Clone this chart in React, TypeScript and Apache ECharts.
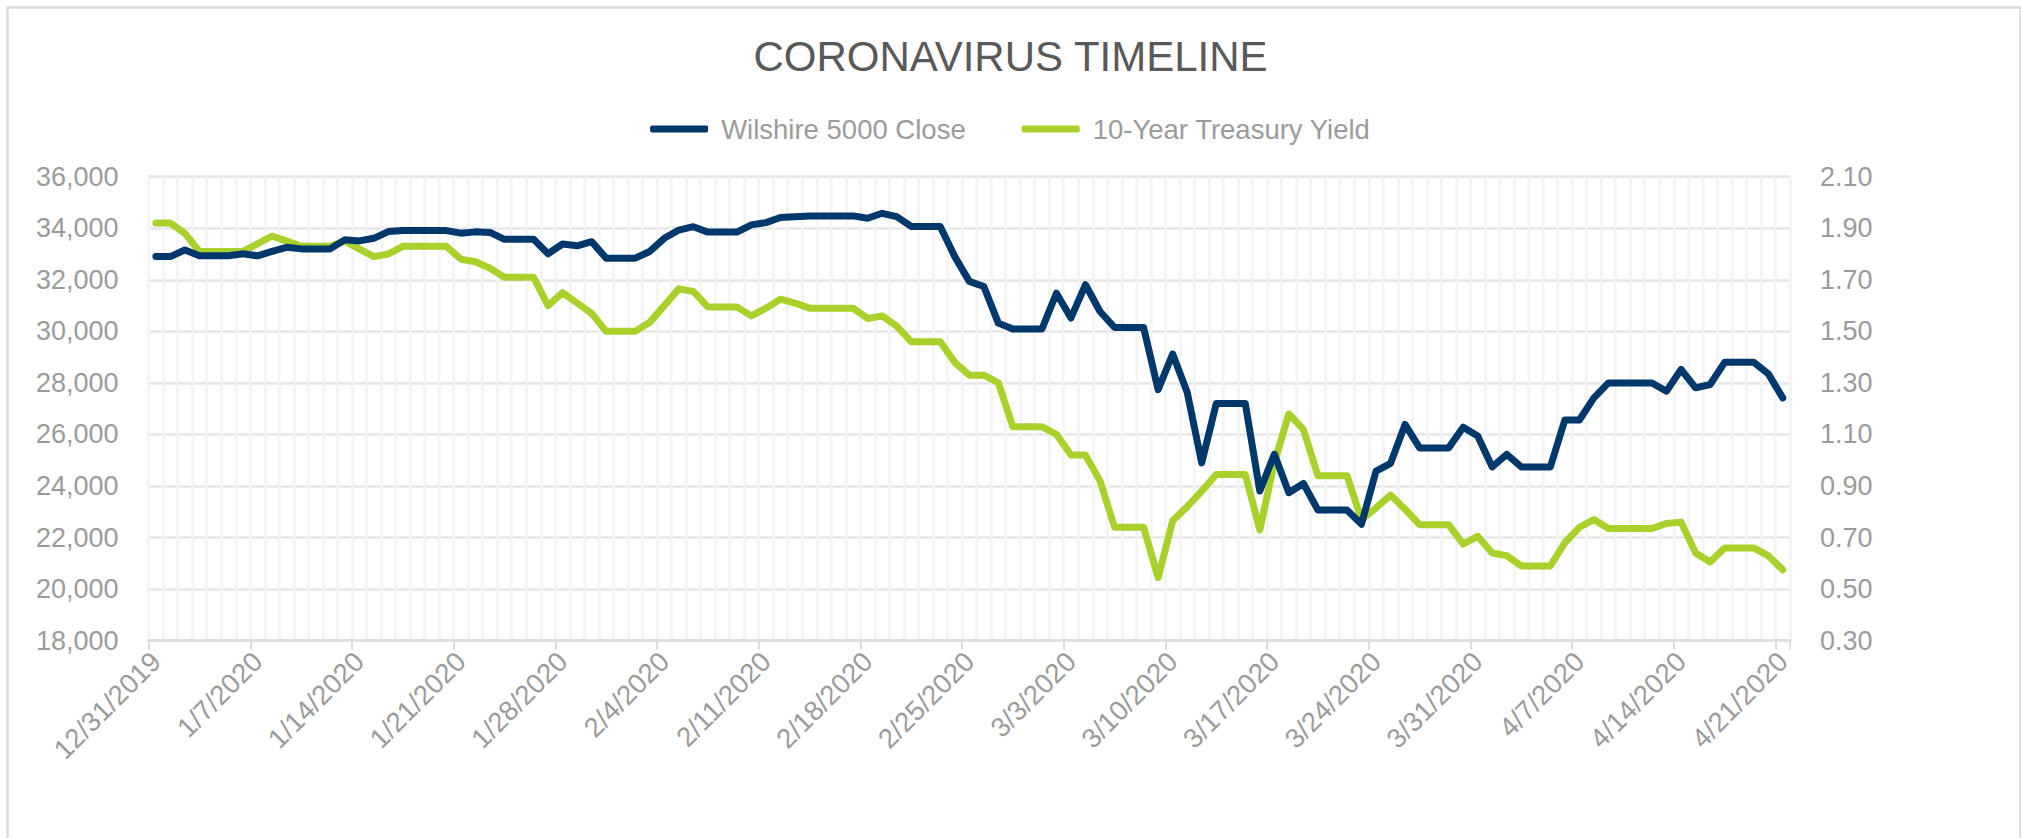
import React, { useEffect, useRef } from "react";
import * as echarts from "echarts";

const dates: string[] = [
  "12/31/2019",
  "1/1/2020","1/2/2020","1/3/2020","1/4/2020","1/5/2020","1/6/2020","1/7/2020","1/8/2020","1/9/2020","1/10/2020",
  "1/11/2020","1/12/2020","1/13/2020","1/14/2020","1/15/2020","1/16/2020","1/17/2020","1/18/2020","1/19/2020","1/20/2020",
  "1/21/2020","1/22/2020","1/23/2020","1/24/2020","1/25/2020","1/26/2020","1/27/2020","1/28/2020","1/29/2020","1/30/2020","1/31/2020",
  "2/1/2020","2/2/2020","2/3/2020","2/4/2020","2/5/2020","2/6/2020","2/7/2020","2/8/2020","2/9/2020","2/10/2020",
  "2/11/2020","2/12/2020","2/13/2020","2/14/2020","2/15/2020","2/16/2020","2/17/2020","2/18/2020","2/19/2020","2/20/2020",
  "2/21/2020","2/22/2020","2/23/2020","2/24/2020","2/25/2020","2/26/2020","2/27/2020","2/28/2020","2/29/2020",
  "3/1/2020","3/2/2020","3/3/2020","3/4/2020","3/5/2020","3/6/2020","3/7/2020","3/8/2020","3/9/2020","3/10/2020",
  "3/11/2020","3/12/2020","3/13/2020","3/14/2020","3/15/2020","3/16/2020","3/17/2020","3/18/2020","3/19/2020","3/20/2020",
  "3/21/2020","3/22/2020","3/23/2020","3/24/2020","3/25/2020","3/26/2020","3/27/2020","3/28/2020","3/29/2020","3/30/2020","3/31/2020",
  "4/1/2020","4/2/2020","4/3/2020","4/4/2020","4/5/2020","4/6/2020","4/7/2020","4/8/2020","4/9/2020","4/10/2020",
  "4/11/2020","4/12/2020","4/13/2020","4/14/2020","4/15/2020","4/16/2020","4/17/2020","4/18/2020","4/19/2020","4/20/2020","4/21/2020",
];

const wilshire: number[] = [
  32900, 32900, 33160, 32930, 32930, 32930, 33010, 32930, 33100, 33260,
  33200, 33200, 33200, 33550, 33510, 33610, 33870, 33910, 33910, 33910,
  33910, 33810, 33860, 33840, 33570, 33570, 33570, 33010, 33390, 33320,
  33480, 32840, 32840, 32840, 33100, 33610, 33930, 34060, 33850, 33850,
  33850, 34130, 34220, 34420, 34450, 34480, 34480, 34480, 34480, 34390,
  34580, 34450, 34070, 34070, 34070, 32900, 31940, 31740, 30320, 30090,
  30090, 30090, 31480, 30520, 31810, 30770, 30150, 30150, 30150, 27740,
  29120, 27640, 24900, 27200, 27200, 27200, 23810, 25230, 23740, 24100,
  23070, 23070, 23070, 22520, 24580, 24880, 26390, 25480, 25480, 25480,
  26280, 25940, 24740, 25230, 24740, 24740, 24740, 26560, 26560, 27420,
  28000, 28000, 28000, 28000, 27680, 28520, 27810, 27940, 28800, 28800,
  28800, 28360, 27420,
];

const treasury: number[] = [
  1.92, 1.92, 1.88, 1.81, 1.81, 1.81, 1.81, 1.84, 1.87, 1.85,
  1.83, 1.83, 1.83, 1.85, 1.82, 1.79, 1.80, 1.83, 1.83, 1.83,
  1.83, 1.78, 1.77, 1.745, 1.71, 1.71, 1.71, 1.60, 1.65, 1.61,
  1.57, 1.50, 1.50, 1.50, 1.535, 1.60, 1.665, 1.655, 1.595, 1.595,
  1.595, 1.56, 1.59, 1.625, 1.61, 1.59, 1.59, 1.59, 1.59, 1.55,
  1.56, 1.52, 1.46, 1.46, 1.46, 1.38, 1.33, 1.33, 1.30, 1.13,
  1.13, 1.13, 1.10, 1.02, 1.02, 0.92, 0.74, 0.74, 0.74, 0.545,
  0.765, 0.82, 0.88, 0.945, 0.945, 0.945, 0.73, 0.99, 1.18, 1.12,
  0.94, 0.94, 0.94, 0.77, 0.815, 0.865, 0.81, 0.75, 0.75, 0.75,
  0.675, 0.705, 0.64, 0.63, 0.59, 0.59, 0.59, 0.68, 0.74, 0.77,
  0.735, 0.735, 0.735, 0.735, 0.755, 0.76, 0.64, 0.605, 0.66, 0.66,
  0.66, 0.63, 0.575,
];

const seriesNames = ["Wilshire 5000 Close", "10-Year Treasury Yield"];
const titleText = "CORONAVIRUS TIMELINE";

const BLUE = "#00386b";
const GREEN = "#a9d02b";
const LABEL = "#9b9b9b";
const FONT = "'Liberation Sans', Arial, sans-serif";

export default function App() {
  const ref = useRef<HTMLDivElement>(null);

  useEffect(() => {
    if (!ref.current) return;
    const chart = echarts.init(ref.current, undefined, { renderer: "svg" });
    chart.setOption({
      animation: false,
      backgroundColor: "#ffffff",
      textStyle: { fontFamily: FONT },
      title: {
        text: titleText,
        left: "center",
        top: 30,
        textStyle: { color: "#595959", fontSize: 42, fontWeight: "normal", fontFamily: FONT },
      },
      legend: {
        top: 110,
        left: "center",
        icon: "roundRect",
        itemWidth: 58,
        itemHeight: 7,
        itemGap: 56,
        textStyle: { color: LABEL, fontSize: 27.5, fontFamily: FONT, padding: [0, 0, 0, 8] },
        data: seriesNames,
      },
      graphic: [
        {
          type: "rect",
          left: 5,
          top: 5,
          shape: { width: 2013, height: 850 },
          style: { fill: "none", stroke: "#dcdcdc", lineWidth: 2.5 },
          silent: true,
        },
      ],
      grid: { left: 148.6, right: 231, top: 176.7, bottom: 197.3, containLabel: false },
      xAxis: {
        type: "category",
        data: dates,
        boundaryGap: true,
        axisLine: { show: true, lineStyle: { color: "#dedede", width: 3 } },
        axisTick: {
          show: true,
          interval: (index: number) => index % 7 === 0 && index < dates.length,
          length: 9,
          lineStyle: { color: "#dedede", width: 2 },
        },
        axisLabel: {
          interval: 6,
          rotate: 45,
          margin: 16,
          color: LABEL,
          fontSize: 27.5,
          fontFamily: FONT,
        },
        splitLine: { show: true, interval: 0, lineStyle: { color: "#f3f3f3", width: 2.5 } },
      },
      yAxis: [
        {
          type: "value",
          min: 18000,
          max: 36000,
          interval: 2000,
          axisLine: { show: false },
          axisTick: { show: false },
          axisLabel: {
            color: LABEL,
            fontSize: 27,
            fontFamily: FONT,
            margin: 30,
            formatter: (v: number) => v.toLocaleString("en-US"),
          },
          splitLine: { show: true, lineStyle: { color: "#e6e6e6", width: 2.5 } },
        },
        {
          type: "value",
          min: 0.3,
          max: 2.1,
          interval: 0.2,
          position: "right",
          axisLine: { show: false },
          axisTick: { show: false },
          axisLabel: {
            color: LABEL,
            fontSize: 27,
            fontFamily: FONT,
            margin: 30,
            formatter: (v: number) => v.toFixed(2),
          },
          splitLine: { show: false },
        },
      ],
      series: [
        {
          name: seriesNames[0],
          type: "line",
          data: wilshire,
          yAxisIndex: 0,
          showSymbol: false,
          symbol: "none",
          lineStyle: { color: BLUE, width: 7, cap: "round", join: "round" },
          itemStyle: { color: BLUE },
          z: 3,
        },
        {
          name: seriesNames[1],
          type: "line",
          data: treasury,
          yAxisIndex: 1,
          showSymbol: false,
          symbol: "none",
          lineStyle: { color: GREEN, width: 7, cap: "round", join: "round" },
          itemStyle: { color: GREEN },
          z: 2,
        },
      ],
    });
    return () => chart.dispose();
  }, []);

  return (
    <div
      ref={ref}
      style={{ position: "fixed", left: 0, top: 0, width: 2021, height: 838 }}
    />
  );
}
